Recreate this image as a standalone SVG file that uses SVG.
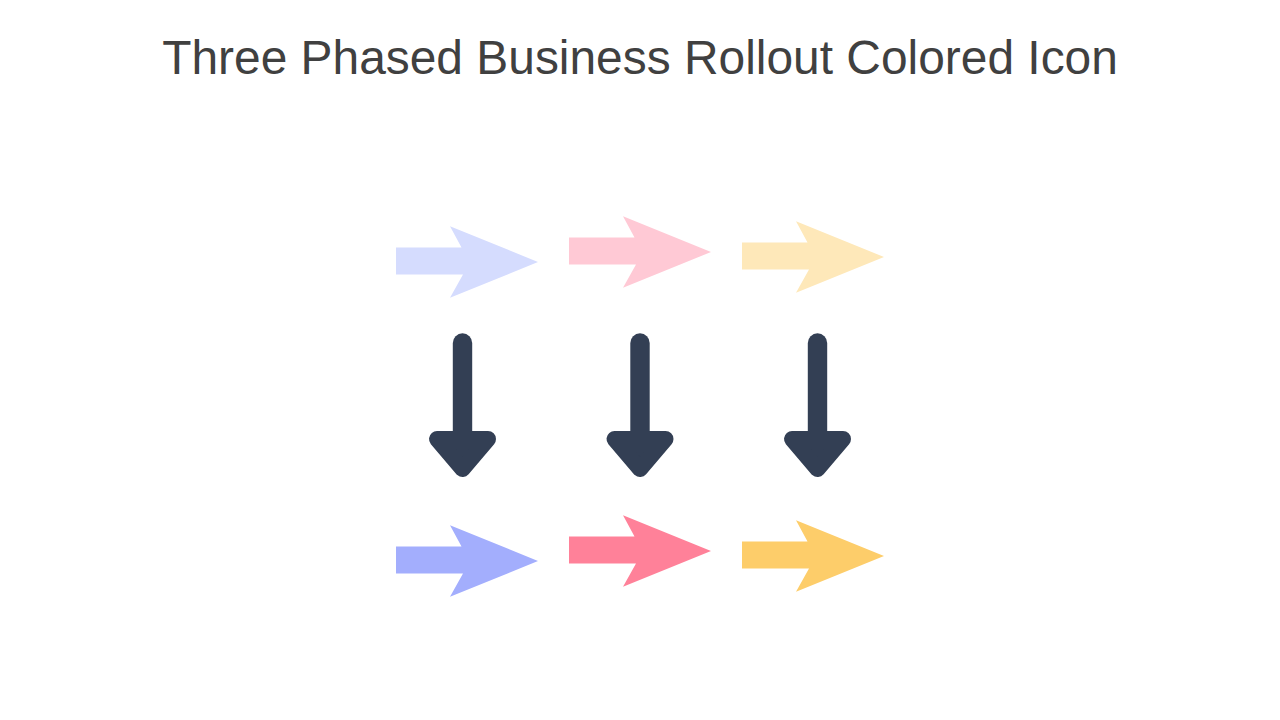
<svg xmlns="http://www.w3.org/2000/svg" width="1280" height="720" viewBox="0 0 1280 720">
<defs>
<style>
.t{font-family:"Liberation Sans",Arial,sans-serif;font-size:47.9px;fill:#404040}
.d{fill:#333f54}
.h{fill:#333f54;stroke:#333f54;stroke-width:16;stroke-linejoin:round}
</style>
<path id="a" d="M0 -14.500H65.500L54 -35.800L142 0L54 35.800L67 12.500H0Z"/>
<g id="b"><rect class="d" x="-9.700" y="-99.700" width="19.400" height="125" rx="9.700"/><path class="h" d="M-25.500 6H25.500L0 36Z"/></g>
</defs>
<rect width="1280" height="720" fill="#fff"/>
<text id="title" class="t" x="640" y="73.500" text-anchor="middle">Three Phased Business Rollout Colored Icon</text>
<g id="n1"><use href="#a" x="396" y="262" fill="#d5dcfe"/></g>
<g id="n2"><use href="#a" x="569" y="252" fill="#ffc9d5"/></g>
<g id="n3"><use href="#a" x="742" y="257" fill="#fee8b9"/></g>
<g id="n4"><use href="#b" x="462.500" y="433"/></g>
<g id="n5"><use href="#b" x="640" y="433"/></g>
<g id="n6"><use href="#b" x="817.500" y="433"/></g>
<g id="n7"><use href="#a" x="396" y="561" fill="#a3aefd"/></g>
<g id="n8"><use href="#a" x="569" y="551" fill="#ff8199"/></g>
<g id="n9"><use href="#a" x="742" y="556" fill="#fdcd6a"/></g>
</svg>
